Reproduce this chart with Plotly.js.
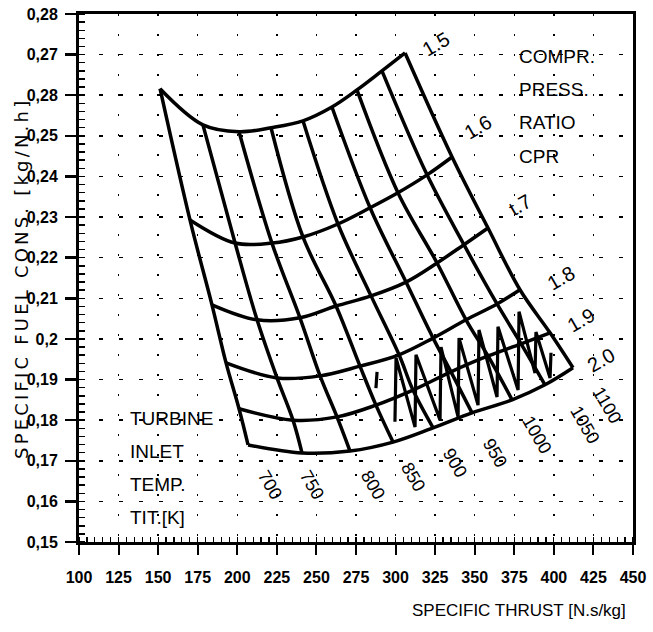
<!DOCTYPE html>
<html>
<head>
<meta charset="utf-8">
<script src="https://cdn.plot.ly/plotly-3.0.1.min.js"></script>
<style>html,body{margin:0;padding:0;background:#fff}#chart{width:653px;height:632px}</style>
</head>
<body>
<div id="chart"></div>
<script>
// ---- data ----
const cprValues = [1.5, 1.6, 1.7, 1.8, 1.9, 2.0];
const titValues = [700, 750, 800, 850, 900, 950, 1000, 1050, 1100];

// specific thrust [N.s/kg] and SFC [kg/N.h] along each CPR line, at TIT = 700..1100
const thrust15 = [151.2, 178.3, 201.1, 221.3, 241.5, 259.8, 275.6, 291.4, 306.0];
const sfc15    = [0.2616, 0.2527, 0.2510, 0.2520, 0.2537, 0.2571, 0.2613, 0.2660, 0.2704];
const thrust16 = [170.1, 198.6, 221.9, 241.5, 263.6, 283.9, 301.5, 319.9, 335.7];
const sfc16    = [0.2293, 0.2236, 0.2236, 0.2251, 0.2283, 0.2323, 0.2360, 0.2404, 0.2448];
const thrust17 = [184.0, 212.5, 239.6, 262.4, 284.5, 306.6, 326.2, 343.2, 358.4];
const sfc17    = [0.2084, 0.2047, 0.2052, 0.2081, 0.2106, 0.2140, 0.2187, 0.2232, 0.2273];
const thrust18 = [192.9, 225.1, 252.3, 277.5, 302.2, 323.7, 344.5, 364.1, 378.6];
const sfc18    = [0.1941, 0.1904, 0.1909, 0.1933, 0.1961, 0.2002, 0.2047, 0.2086, 0.2121];
const thrust19 = [201.1, 235.2, 263.0, 287.6, 311.0, 335.0, 358.4, 379.3, 397.6];
const sfc19    = [0.1828, 0.1800, 0.1808, 0.1837, 0.1874, 0.1919, 0.1958, 0.1988, 0.2015];
const thrust20 = [206.8, 240.9, 271.2, 298.4, 323.7, 348.3, 373.6, 394.4, 412.1];
const sfc20    = [0.1739, 0.1719, 0.1724, 0.1746, 0.1781, 0.1818, 0.1850, 0.1887, 0.1929];

// hand hatching in the lower-right region
const hatchThrust = [299.6, 300.3, 312.3, 312.9, 328.1, 328.7, 339.5, 340.1, 352.1, 352.7, 364.1, 364.7, 377.4, 378.0, 388.1, 388.7, 397.6, 398.2];
const hatchSfc    = [0.1796, 0.1953, 0.1783, 0.1961, 0.1800, 0.1980, 0.1808, 0.2002, 0.1837, 0.2022, 0.1857, 0.2030, 0.1874, 0.2067, 0.1916, 0.2017, 0.1904, 0.1966];
const strokeThrust = [288.3, 287.6];
const strokeSfc    = [0.1919, 0.1879];

// axis ticks
const xTickVals = [100, 125, 150, 175, 200, 225, 250, 275, 300, 325, 350, 375, 400, 425, 450];
const yTickVals = [0.28, 0.27, 0.26, 0.25, 0.24, 0.23, 0.22, 0.21, 0.20, 0.19, 0.18, 0.17, 0.16, 0.15];
const yTickText = ['0,28', '0,27', '0,28', '0,25', '0,24', '0,23', '0,22', '0,21', '0,2', '0,19', '0,18', '0,17', '0,16', '0,15'];

const titleLines = ['TURBINE', 'INLET', 'TEMP.', 'TIT.[K]'];
const cprTitleLines = ['COMPR.', 'PRESS.', 'RATIO', 'CPR'];
const cprText = ['1.5', '1.6', 't.7', '1.8', '1.9', '2.0'];

// ---- build ----
const rowsX = [thrust15, thrust16, thrust17, thrust18, thrust19, thrust20];
const rowsY = [sfc15, sfc16, sfc17, sfc18, sfc19, sfc20];

const sans = 'Liberation Sans, Arial, Helvetica, sans-serif';
const LW = 3.5;
const traces = [];
rowsX.forEach((xs, i) => {
  traces.push({type: 'scatter', mode: 'lines', x: xs, y: rowsY[i],
    line: {color: '#000', width: LW, shape: 'spline', smoothing: 1}, hoverinfo: 'skip', showlegend: false});
});
titValues.forEach((t, j) => {
  traces.push({type: 'scatter', mode: 'lines', x: rowsX.map(r => r[j]), y: rowsY.map(r => r[j]),
    line: {color: '#000', width: LW, shape: 'spline', smoothing: 1}, hoverinfo: 'skip', showlegend: false});
});
traces.push({type: 'scatter', mode: 'lines', x: hatchThrust, y: hatchSfc,
  line: {color: '#000', width: 3.2}, hoverinfo: 'skip', showlegend: false});
traces.push({type: 'scatter', mode: 'lines', x: strokeThrust, y: strokeSfc,
  line: {color: '#000', width: 3.2}, hoverinfo: 'skip', showlegend: false});

const annotations = [];
// CPR labels near right ends of CPR lines (pixel offsets)
const cprShift = [[31, 9], [26, 30], [32, 23], [41, 12], [31, 13], [28, 8]];
cprValues.forEach((c, i) => {
  annotations.push({x: rowsX[i][8], y: rowsY[i][8], xref: 'x', yref: 'y', text: cprText[i],
    showarrow: false, xshift: cprShift[i][0], yshift: cprShift[i][1], textangle: -30,
    font: {family: sans, size: 20, color: '#000'}});
});
// TIT labels below the bottom CPR line
const titShift = [[22, -40], [10, -32], [23, -34], [20, -35], [22, -35], [23, -40], [25, -35], [40, -40], [34, -37]];
titValues.forEach((t, j) => {
  annotations.push({x: thrust20[j], y: sfc20[j], xref: 'x', yref: 'y', text: String(t),
    showarrow: false, xshift: titShift[j][0], yshift: titShift[j][1], textangle: 60,
    font: {family: sans, size: 18, color: '#000'}});
});
// block texts
titleLines.forEach((s, k) => {
  annotations.push({xref: 'paper', yref: 'paper', x: (128 - 79) / 554, y: (542 - (418 + k * 33)) / 528,
    xanchor: 'left', yanchor: 'middle', text: s, showarrow: false,
    font: {family: sans, size: 19, color: '#000'}});
});
cprTitleLines.forEach((s, k) => {
  annotations.push({xref: 'paper', yref: 'paper', x: (517 - 79) / 554, y: (542 - (56 + k * 33.5)) / 528,
    xanchor: 'left', yanchor: 'middle', text: s, showarrow: false,
    font: {family: sans, size: 19, color: '#000'}});
});
annotations.push({xref: 'paper', yref: 'paper', x: (628 - 79) / 554, y: (542 - 610) / 528,
  xanchor: 'right', yanchor: 'middle', text: 'SPECIFIC THRUST [N.s/kg]', showarrow: false,
  font: {family: sans, size: 17, color: '#000'}});
annotations.push({xref: 'paper', yref: 'paper', x: (21 - 79) / 554, y: (542 - 279) / 528,
  xanchor: 'center', yanchor: 'middle', textangle: -90,
  text: '<span style="letter-spacing:3.2px">SPECIFIC FUEL CONS. [kg/N.h]</span>', showarrow: false,
  font: {family: 'DejaVu Sans, sans-serif', size: 18, color: '#000'}});

const layout = {
  width: 653, height: 632,
  margin: {l: 79, r: 20, t: 14, b: 90, pad: 0},
  paper_bgcolor: '#fff', plot_bgcolor: '#fff',
  showlegend: false,
  xaxis: {
    range: [100, 450], tickmode: 'array', tickvals: xTickVals, ticktext: xTickVals.map(String),
    ticks: 'outside', ticklen: 10, tickwidth: 2, tickcolor: '#000',
    showline: true, linewidth: 3, linecolor: '#000', mirror: true,
    showgrid: true, gridcolor: '#000', gridwidth: 1.5, griddash: '2px,18px',
    zeroline: false, ticklabelstandoff: 9,
    tickfont: {family: sans, size: 16, color: '#000', weight: 'bold'},
    minor: {dtick: 5, tick0: 100, ticks: 'inside', ticklen: 5, tickwidth: 1.2, tickcolor: '#000', showgrid: false}
  },
  yaxis: {
    range: [0.15, 0.28], tickmode: 'array', tickvals: yTickVals, ticktext: yTickText,
    ticks: 'outside', ticklen: 11, tickwidth: 2.5, tickcolor: '#000',
    showline: true, linewidth: 3, linecolor: '#000', mirror: true,
    showgrid: true, gridcolor: '#000', gridwidth: 1.5, griddash: '4px,16px',
    zeroline: false, ticklabelstandoff: 4,
    tickfont: {family: sans, size: 16, color: '#000', weight: 'bold'},
    minor: {dtick: 0.002, tick0: 0.15, ticks: 'inside', ticklen: 6, tickwidth: 1.5, tickcolor: '#000', showgrid: false}
  },
  annotations: annotations
};

Plotly.newPlot('chart', traces, layout, {staticPlot: true, displayModeBar: false});
</script>
</body>
</html>
